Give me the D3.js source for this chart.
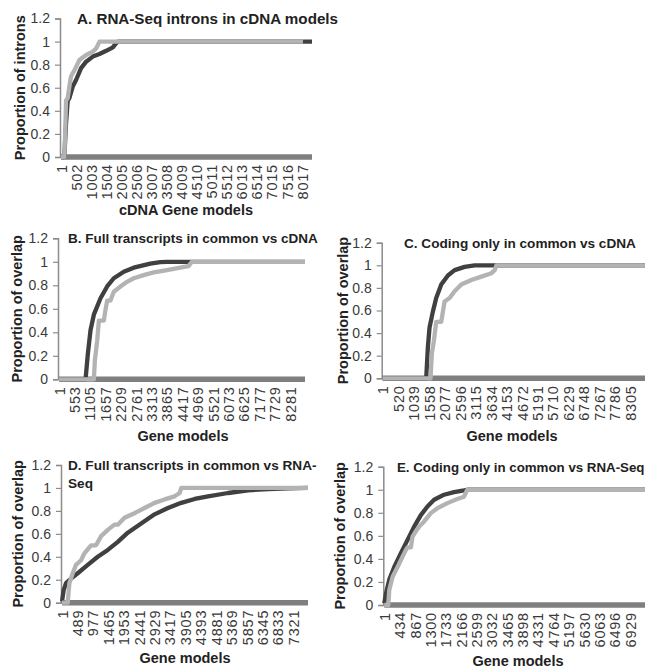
<!DOCTYPE html>
<html>
<head>
<meta charset="utf-8">
<script src="https://cdnjs.cloudflare.com/ajax/libs/d3/7.8.5/d3.min.js"></script>
<style>
body { margin: 0; background: #fff; }
svg { font-family: "Liberation Sans", Arial, sans-serif; }
</style>
</head>
<body>
<svg width="651" height="668"></svg>
<script>
var svg = d3.select("svg");

// y ticks shared by every panel
var yTicks = [0, 0.2, 0.4, 0.6, 0.8, 1, 1.2];

// panel titles and labels
var titles = ["A. RNA-Seq introns in cDNA models",
	"B. Full transcripts in common vs cDNA",
	"C. Coding only in common vs cDNA",
	"D. Full transcripts in common vs RNA-|Seq",
	"E. Coding only in common vs RNA-Seq"];
var yTitles = ["Proportion of introns", "Proportion of overlap", "Proportion of overlap",
	"Proportion of overlap", "Proportion of overlap"];
var xTitles = ["cDNA Gene models", "Gene models", "Gene models", "Gene models", "Gene models"];

// number of gene models (categories) and label interval for each panel
var counts = [8350, 8815, 8800, 7790, 7350];
var labelSteps = [501, 552, 519, 488, 433];

// dark series: [gene model, proportion]
var darkA = [[1,0],[112,0],[168,0.29],[224,0.49],[279,0.51],[391,0.61],[502,0.667],[669,0.77],
	[836,0.826],[1058,0.87],[1281,0.893],[1504,0.92],[1726,0.95],[1815,0.98],[1893,1],[8350,1]];
var darkB = [[1,0],[953,0],[1036,0.22],[1131,0.42],[1250,0.55],[1488,0.69],[1726,0.79],[1964,0.86],
	[2321,0.915],[2678,0.95],[3273,0.985],[3630,0.997],[3868,1],[8815,1]];
var darkC = [[1,0],[1460,0],[1516,0.275],[1572,0.45],[1684,0.59],[1796,0.71],[1965,0.83],[2189,0.91],
	[2413,0.957],[2750,0.986],[3086,1],[8800,1]];
var darkD = [[1,0.01],[54,0.11],[128,0.17],[287,0.21],[498,0.257],[816,0.33],[1133,0.4],[1451,0.46],
	[1768,0.53],[2085,0.61],[2508,0.69],[2932,0.77],[3355,0.825],[3778,0.87],[4201,0.904],[4625,0.927],
	[5259,0.956],[5894,0.98],[6529,0.99],[7164,0.997],[7790,1]];
var darkE = [[1,0.015],[48,0.1],[141,0.22],[282,0.33],[469,0.45],[656,0.565],[843,0.68],[1031,0.78],
	[1218,0.855],[1405,0.913],[1686,0.957],[1967,0.98],[2248,0.994],[2341,1],[7350,1]];

// light series: [gene model, proportion]
var lightA = [[1,0],[112,0],[146,0.26],[168,0.49],[224,0.51],[279,0.61],[335,0.7],[446,0.75],[613,0.84],
	[836,0.884],[1058,0.913],[1170,0.94],[1281,1],[8050,1]];
var lightB = [[1,0],[1250,0],[1286,0.16],[1370,0.33],[1430,0.5],[1607,0.5],[1666,0.59],[1726,0.67],
	[1845,0.67],[1964,0.745],[2203,0.79],[2440,0.83],[2678,0.86],[3035,0.887],[3392,0.91],[3868,0.93],
	[4344,0.95],[4642,0.963],[4761,1],[8815,1]];
var lightC = [[1,0],[1606,0],[1650,0.22],[1718,0.33],[1796,0.5],[1965,0.5],[2021,0.59],[2077,0.68],
	[2245,0.71],[2413,0.77],[2637,0.83],[2974,0.87],[3311,0.9],[3648,0.93],[3760,0.957],[3816,1],[8800,1]];
var lightD = [[1,0],[181,0],[234,0.17],[340,0.257],[445,0.33],[604,0.37],[710,0.43],[921,0.5],
	[1080,0.5],[1239,0.58],[1451,0.635],[1662,0.68],[1768,0.68],[1980,0.74],[2297,0.78],[2614,0.825],
	[2932,0.87],[3249,0.9],[3566,0.927],[3725,0.956],[3778,1],[7790,1]];
var lightE = [[1,0],[113,0],[141,0.13],[235,0.246],[375,0.33],[516,0.42],[610,0.478],[656,0.5],
	[750,0.5],[797,0.594],[890,0.64],[984,0.68],[1125,0.725],[1312,0.797],[1499,0.84],[1779,0.884],
	[2060,0.92],[2248,0.94],[2341,1],[7350,1]];

var darkSeries = [darkA, darkB, darkC, darkD, darkE];
var lightSeries = [lightA, lightB, lightC, lightD, lightE];

// where each panel sits on the page (each chart was scaled a bit differently)
var boxes = [
	{x0: 60, x1: 312, yTop: 18.5, yBot: 157, titleX: 77, titleSize: 15.2, yTitleX: 20, xTitleX: 186, xTitleY: 215},
	{x0: 58, x1: 305, yTop: 238.3, yBot: 379.3, titleX: 68, titleSize: 13.5, yTitleX: 17, xTitleX: 183, xTitleY: 441},
	{x0: 381.7, x1: 645, yTop: 242.7, yBot: 378.3, titleX: 404, titleSize: 13.6, yTitleX: 343, xTitleX: 512, xTitleY: 441},
	{x0: 61, x1: 308, yTop: 465, yBot: 602.7, titleX: 68, titleSize: 13.6, yTitleX: 18, xTitleX: 185, xTitleY: 663},
	{x0: 383.3, x1: 645, yTop: 466.7, yBot: 605, titleX: 397, titleSize: 13.3, yTitleX: 340, xTitleX: 518, xTitleY: 666}
];

for (var p = 0; p < 5; p++)
	drawPanel(p);

function drawPanel(p)
{
	var b = boxes[p];
	var g = svg.append("g");

	var x = d3.scaleLinear().domain([1, counts[p]]).range([b.x0 + 1, b.x1]);
	var y = d3.scaleLinear().domain([0, 1.2]).range([b.yBot, b.yTop]);

	//y axis
	var yAxis = d3.axisLeft(y).tickValues(yTicks).tickSize(5).tickPadding(5)
		.tickFormat(function(d) { return d3.format("")(+d.toFixed(1)); });
	var ya = g.append("g").attr("transform", "translate(" + b.x0 + ",0)").call(yAxis);
	ya.select(".domain").attr("stroke", "#8c8c8c").attr("stroke-width", 1.5);
	ya.selectAll(".tick line").attr("stroke", "#8c8c8c").attr("stroke-width", 1.2);
	ya.selectAll(".tick text").attr("font-size", 14).attr("fill", "#3a3a3a")
		.attr("font-family", "Liberation Sans, Arial, sans-serif");

	//category labels along the bottom
	var labels = [];
	for (var c = 1; c <= counts[p]; c += labelSteps[p])
		labels.push(c);
	var xAxis = d3.axisBottom(x).tickValues(labels).tickSize(0).tickFormat(d3.format("d"));
	var xa = g.append("g").attr("transform", "translate(0," + b.yBot + ")").call(xAxis);
	xa.select(".domain").remove();
	xa.selectAll(".tick text")
		.attr("font-size", 14.5).attr("fill", "#3a3a3a")
		.attr("font-family", "Liberation Sans, Arial, sans-serif")
		.attr("letter-spacing", 0.8)
		.attr("text-anchor", "end")
		.attr("dy", "0.35em")
		.attr("transform", "translate(0,7) rotate(-90)")
		.attr("x", 0).attr("y", 0);

	//thick line along zero
	g.append("line")
		.attr("x1", x(1)).attr("x2", x(counts[p]))
		.attr("y1", y(0)).attr("y2", y(0))
		.attr("stroke", "#7f7f7f").attr("stroke-width", 5.5);

	var line = d3.line()
		.x(function(d) { return x(d[0]); })
		.y(function(d) { return y(d[1]); });

	g.append("path").datum(darkSeries[p])
		.attr("d", line).attr("fill", "none")
		.attr("stroke", "#404040").attr("stroke-width", 4.3).attr("stroke-linejoin", "round");
	g.append("path").datum(lightSeries[p])
		.attr("d", line).attr("fill", "none")
		.attr("stroke", "#b3b3b3").attr("stroke-width", 4.3).attr("stroke-linejoin", "round");

	//title, can be two lines split on |
	var parts = titles[p].split("|");
	var t = g.append("text")
		.attr("x", b.titleX).attr("y", b.yTop + 5)
		.attr("font-size", b.titleSize).attr("font-weight", "bold").attr("fill", "#222");
	parts.forEach(function(s, i) {
		t.append("tspan").attr("x", b.titleX).attr("dy", i == 0 ? 0 : 18).text(s);
	});

	g.append("text")
		.attr("transform", "translate(" + (b.yTitleX + 5) + "," + ((b.yTop + b.yBot) / 2) + ") rotate(-90)")
		.attr("text-anchor", "middle")
		.attr("font-size", 14.5).attr("font-weight", "bold").attr("fill", "#222")
		.text(yTitles[p]);

	g.append("text")
		.attr("x", b.xTitleX).attr("y", b.xTitleY)
		.attr("text-anchor", "middle")
		.attr("font-size", 14.5).attr("font-weight", "bold").attr("fill", "#222")
		.text(xTitles[p]);
}
</script>
</body>
</html>
